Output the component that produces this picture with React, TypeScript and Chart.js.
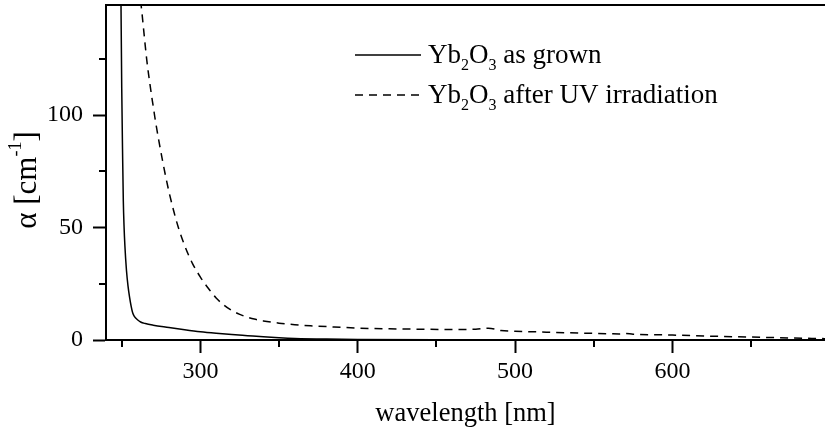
import React, { useEffect, useRef } from "react";
import { Chart, registerables } from "chart.js";

Chart.register(...registerables);

// wavelength [nm] for "as grown"
const grownWavelength = [249.5, 250, 250.5, 251, 251.5, 252, 253, 254, 255, 256, 257, 258, 260, 262, 265, 270, 280, 290, 300, 310, 320, 330, 340, 350, 360, 380, 400, 450, 500, 600, 697];
const grownAlpha = [152, 112, 85, 62, 50, 42, 31, 24, 19, 15, 12, 10.5, 9, 8, 7.3, 6.6, 5.6, 4.6, 3.7, 3, 2.4, 1.9, 1.4, 1, 0.7, 0.4, 0.25, 0.1, 0.05, 0.02, 0];

// wavelength [nm] for "after UV irradiation"
const uvWavelength = [262, 263, 264, 265, 266, 267, 268, 269, 270, 271, 272, 274, 276, 278, 280, 283, 286, 290, 295, 300, 305, 310, 315, 320, 325, 330, 335, 340, 350, 360, 370, 385, 400, 420, 440, 460, 475, 483, 487, 491, 500, 520, 540, 560, 566, 570, 575, 600, 625, 650, 675, 697];
const uvAlpha = [151, 144.5, 137.5, 130.5, 124, 118.5, 113.5, 108.5, 104, 99.3, 95, 87, 79.5, 72.5, 66, 57.5, 50, 42, 34, 28, 23, 18.7, 15.5, 13.1, 11.4, 10.1, 9.2, 8.5, 7.5, 6.8, 6.3, 5.8, 5.3, 5, 4.8, 4.7, 4.8, 5.2, 4.9, 4.2, 3.9, 3.5, 3.1, 2.8, 2.7, 2.9, 2.6, 2.2, 1.7, 1.3, 0.9, 0.6];

const xTicks = [250, 300, 350, 400, 450, 500, 550, 600, 650];
const xLabelled = [300, 400, 500, 600];
const yTicks = [0, 25, 50, 75, 100, 125];
const yLabelled = [0, 50, 100];

const X_MIN = 240;
const X_MAX = 697;
const Y_MIN = 0;
const Y_MAX = 149;

const FONT = "'Liberation Serif', 'Times New Roman', serif";

const decorPlugin = {
  id: "decor",
  afterDraw(chart: any) {
    const { ctx, chartArea } = chart;
    const xs = chart.scales.x;
    const ys = chart.scales.y;
    ctx.save();
    ctx.strokeStyle = "#000";
    ctx.lineWidth = 2;
    // top border
    ctx.beginPath();
    ctx.moveTo(chartArea.left - 1, chartArea.top);
    ctx.lineTo(chartArea.right, chartArea.top);
    ctx.stroke();
    // minor ticks
    ctx.beginPath();
    xTicks.filter((v) => !xLabelled.includes(v)).forEach((v) => {
      const px = Math.round(xs.getPixelForValue(v));
      ctx.moveTo(px, chartArea.bottom);
      ctx.lineTo(px, chartArea.bottom + 7);
    });
    yTicks.filter((v) => !yLabelled.includes(v)).forEach((v) => {
      const py = Math.round(ys.getPixelForValue(v));
      ctx.moveTo(chartArea.left, py);
      ctx.lineTo(chartArea.left - 7, py);
    });
    ctx.stroke();

    // y title with superscript
    ctx.fillStyle = "#000";
    ctx.translate(28, 180);
    ctx.rotate(-Math.PI / 2);
    const ybig = `31px ${FONT}`;
    const ysmall = `18px ${FONT}`;
    const parts: [string, string, number][] = [
      ["\u03b1 [cm", ybig, 0],
      ["-1", ysmall, -12],
      ["]", ybig, 0],
    ];
    let total = 0;
    parts.forEach(([t, f]) => {
      ctx.font = f;
      total += ctx.measureText(t).width;
    });
    let cx = -total / 2;
    ctx.textBaseline = "middle";
    parts.forEach(([t, f, dy]) => {
      ctx.font = f;
      ctx.fillText(t, cx, dy);
      cx += ctx.measureText(t).width;
    });
    ctx.restore();

    // legend
    ctx.save();
    ctx.fillStyle = "#000";
    ctx.strokeStyle = "#000";
    ctx.lineWidth = 1.5;
    const big = `27px ${FONT}`;
    const small = `16px ${FONT}`;
    const rows: { y: number; dash: number[]; label: string }[] = [
      { y: 55, dash: [], label: " as grown" },
      { y: 95, dash: [8, 6], label: " after UV irradiation" },
    ];
    rows.forEach((r) => {
      ctx.setLineDash(r.dash);
      ctx.beginPath();
      ctx.moveTo(355, r.y);
      ctx.lineTo(421, r.y);
      ctx.stroke();
      ctx.setLineDash([]);
      const seg: [string, string, number][] = [
        ["Yb", big, 0],
        ["2", small, 7],
        ["O", big, 0],
        ["3", small, 7],
        [r.label, big, 0],
      ];
      let x = 428;
      ctx.textBaseline = "alphabetic";
      seg.forEach(([t, f, dy]) => {
        ctx.font = f;
        ctx.fillText(t, x, r.y + 8 + dy);
        x += ctx.measureText(t).width;
      });
    });
    ctx.restore();
  },
};

export default function App() {
  const ref = useRef<HTMLCanvasElement | null>(null);
  useEffect(() => {
    document.body.style.margin = "0";
    const canvas = ref.current;
    if (!canvas) return;
    const chart = new Chart(canvas, {
      type: "line",
      data: {
        datasets: [
          {
            label: "Yb2O3 as grown",
            data: grownWavelength.map((x, i) => ({ x, y: grownAlpha[i] })),
            borderColor: "#000",
            borderWidth: 1.5,
            pointRadius: 0,
            cubicInterpolationMode: "monotone",
            fill: false,
          },
          {
            label: "Yb2O3 after UV irradiation",
            data: uvWavelength.map((x, i) => ({ x, y: uvAlpha[i] })),
            borderColor: "#000",
            borderWidth: 1.5,
            borderDash: [8, 6],
            pointRadius: 0,
            cubicInterpolationMode: "monotone",
            fill: false,
          },
        ],
      },
      options: {
        responsive: false,
        animation: false,
        layout: { padding: { top: 5, right: 0, left: 0, bottom: 0 } },
        plugins: { legend: { display: false }, tooltip: { enabled: false } },
        scales: {
          x: {
            type: "linear",
            min: X_MIN,
            max: X_MAX,
            afterBuildTicks: (s: any) => {
              s.ticks = xTicks.map((v) => ({ value: v }));
            },
            afterFit: (s: any) => {
              s.height = 90;
              s.paddingLeft = 0;
              s.paddingRight = 0;
            },
            ticks: {
              autoSkip: false,
              maxRotation: 0,
              padding: 4,
              color: "#000",
              font: { family: FONT, size: 24 },
              callback: (v: any) => (xLabelled.includes(Number(v)) ? String(v) : ""),
            },
            grid: {
              drawOnChartArea: false,
              drawTicks: true,
              tickLength: 13,
              tickWidth: 2,
              tickColor: (c: any) =>
                c.tick && xLabelled.includes(c.tick.value) ? "#000" : "rgba(0,0,0,0)",
            },
            border: { display: true, color: "#000", width: 2 },
            title: {
              display: true,
              text: "wavelength [nm]",
              color: "#000",
              font: { family: FONT, size: 26.5 },
              padding: { top: 3, bottom: 0 },
            },
          },
          y: {
            type: "linear",
            min: Y_MIN,
            max: Y_MAX,
            afterBuildTicks: (s: any) => {
              s.ticks = yTicks.map((v) => ({ value: v }));
            },
            afterFit: (s: any) => {
              s.width = 106;
              s.paddingTop = 0;
              s.paddingBottom = 0;
            },
            ticks: {
              autoSkip: false,
              padding: 10,
              color: "#000",
              font: { family: FONT, size: 24 },
              callback: (v: any) => (yLabelled.includes(Number(v)) ? String(v) : ""),
            },
            grid: {
              drawOnChartArea: false,
              drawTicks: true,
              tickLength: 13,
              tickWidth: 2,
              tickColor: (c: any) =>
                c.tick && yLabelled.includes(c.tick.value) ? "#000" : "rgba(0,0,0,0)",
            },
            border: { display: true, color: "#000", width: 2 },
          },
        },
      },
      plugins: [decorPlugin],
    } as any);
    return () => chart.destroy();
  }, []);
  return (
    <div style={{ width: 825, height: 430 }}>
      <canvas ref={ref} width={825} height={430} style={{ display: "block" }} />
    </div>
  );
}
